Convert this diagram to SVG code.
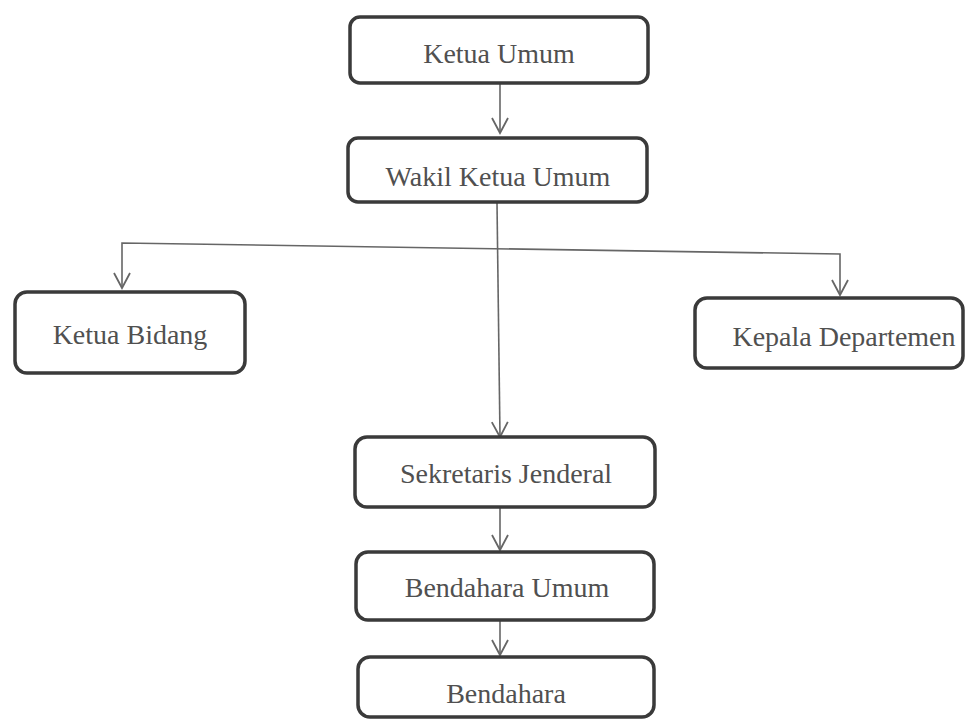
<svg xmlns="http://www.w3.org/2000/svg" width="972" height="721" viewBox="0 0 972 721">
<defs>
<style>
.box{fill:#fff;stroke:#3a3a3a;stroke-width:3.5}
.lbl{font-family:"Liberation Serif","Times New Roman",serif;font-size:28px;fill:#505050;text-anchor:middle}
.con{fill:none;stroke:#666;stroke-width:1.6}
</style>
<marker id="ah" markerUnits="userSpaceOnUse" markerWidth="20" markerHeight="22" viewBox="-17 -11 20 22" refX="0" refY="0" orient="auto-start-reverse" overflow="visible">
<path d="M-15,-8 L0,0 L-15,8" fill="none" stroke="#666" stroke-width="1.8"/>
</marker>
</defs>
<rect width="972" height="721" fill="#fff"/>
<g id="connectors">
<line class="con" x1="500" y1="84" x2="500" y2="133" marker-end="url(#ah)"/>
<line class="con" x1="497" y1="203" x2="500" y2="437" marker-end="url(#ah)"/>
<polyline class="con" points="122,288 122,243 840,254 840,295" marker-start="url(#ah)" marker-end="url(#ah)"/>
<line class="con" x1="500" y1="508" x2="500" y2="550" marker-end="url(#ah)"/>
<line class="con" x1="500" y1="621" x2="500" y2="655" marker-end="url(#ah)"/>
</g>
<g id="ketua-umum">
<rect class="box" x="350" y="17" width="298" height="66" rx="10"/>
<text class="lbl" x="499" y="63">Ketua Umum</text>
</g>
<g id="wakil-ketua-umum">
<rect class="box" x="348" y="138" width="299" height="64" rx="10"/>
<text class="lbl" x="498" y="186">Wakil Ketua Umum</text>
</g>
<g id="ketua-bidang">
<rect class="box" x="15" y="292" width="230" height="81" rx="12"/>
<text class="lbl" x="130" y="344">Ketua Bidang</text>
</g>
<g id="kepala-departemen">
<rect class="box" x="695" y="298" width="268" height="70" rx="12"/>
<text class="lbl" x="844" y="346">Kepala Departemen</text>
</g>
<g id="sekretaris-jenderal">
<rect class="box" x="355" y="437" width="300" height="70" rx="12"/>
<text class="lbl" x="506" y="483">Sekretaris Jenderal</text>
</g>
<g id="bendahara-umum">
<rect class="box" x="356" y="552" width="298" height="68" rx="12"/>
<text class="lbl" x="507" y="597">Bendahara Umum</text>
</g>
<g id="bendahara">
<rect class="box" x="358" y="657" width="296" height="60" rx="12"/>
<text class="lbl" x="506" y="703">Bendahara</text>
</g>
</svg>
